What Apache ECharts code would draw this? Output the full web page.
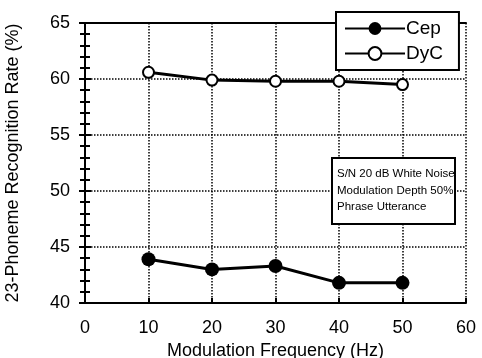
<!DOCTYPE html>
<html>
<head>
<meta charset="utf-8">
<script src="https://cdn.jsdelivr.net/npm/echarts@6/dist/echarts.min.js"></script>
<style>
html, body { margin: 0; padding: 0; background: #fff; }
#chart { width: 482px; height: 358px; }
</style>
</head>
<body>
<div id="chart"></div>
<script>
var dom = document.getElementById("chart");
var myChart;

// modulation frequency (Hz)
var freqs = [10, 20, 30, 40, 50];
// recognition rates (%)
var cepRates = [43.9, 43.0, 43.3, 41.8, 41.8];
var dycRates = [60.6, 59.9, 59.8, 59.8, 59.5];
var noteLines = ['S/N 20 dB White Noise', 'Modulation Depth 50%', 'Phrase Utterance'];

var fontFam = '"Liberation Sans", Arial, sans-serif';

function pairs(xs, ys) {
    return xs.map(function (x, i) { return [x, ys[i]]; });
}

var option = {
    backgroundColor: '#fff',
    animation: false,
    grid: { left: 85, right: 16, top: 23, bottom: 55, outerBoundsMode: 'none' },
    legend: {
        orient: 'vertical',
        left: 336,
        top: 12,
        width: 121,
        padding: [7, 16, 7, 8],
        itemGap: 6,
        itemWidth: 60,
        itemHeight: 16,
        backgroundColor: '#fff',
        borderColor: '#000',
        borderWidth: 2,
        borderRadius: 0,
        z: 20,
        textStyle: { fontFamily: fontFam, fontSize: 19, color: '#000', padding: [0, 0, 0, -4] },
        data: ['Cep', 'DyC']
    },
    xAxis: [{
        type: 'value',
        min: 0, max: 60, interval: 10,
        name: 'Modulation Frequency (Hz)',
        nameLocation: 'middle',
        nameGap: 36,
        nameTextStyle: { fontFamily: fontFam, fontSize: 18, color: '#000' },
        axisLine: { lineStyle: { color: '#000', width: 2 } },
        axisTick: { inside: true, length: 5, lineStyle: { color: '#000', width: 2 } },
        axisLabel: { fontFamily: fontFam, fontSize: 18, color: '#000', margin: 16 },
        splitLine: { show: true, lineStyle: { type: 'dotted', color: '#000', width: 1.5 } }
    }, {
        type: 'value', position: 'top',
        min: 0, max: 60, interval: 10,
        axisLine: { lineStyle: { color: '#000', width: 2 } },
        axisTick: { show: false }, axisLabel: { show: false }, splitLine: { show: false }
    }],
    yAxis: [{
        type: 'value',
        min: 40, max: 65, interval: 5,
        name: '23-Phoneme Recognition Rate (%)',
        nameLocation: 'middle',
        nameGap: 63,
        nameTextStyle: { fontFamily: fontFam, fontSize: 18, color: '#000' },
        axisLine: { show: true, lineStyle: { color: '#000', width: 2 } },
        axisTick: { inside: true, length: 6, lineStyle: { color: '#000', width: 2 } },
        minorTick: { show: true, splitNumber: 5, length: 5, lineStyle: { color: '#000', width: 2 } },
        axisLabel: { fontFamily: fontFam, fontSize: 18, color: '#000', margin: 15 },
        splitLine: { show: true, lineStyle: { type: 'dotted', color: '#000', width: 1.5 } }
    }, {
        type: 'value', position: 'right',
        min: 40, max: 65, interval: 5,
        axisLine: { show: true, lineStyle: { color: '#000', width: 2 } },
        axisTick: { inside: true, length: 6, lineStyle: { color: '#000', width: 2 } },
        minorTick: { show: true, splitNumber: 5, length: 5, lineStyle: { color: '#000', width: 2 } },
        axisLabel: { show: false },
        splitLine: { show: false }
    }],
    series: [{
        name: 'Cep',
        type: 'line',
        data: pairs(freqs, cepRates),
        symbol: 'circle',
        symbolSize: 14,
        lineStyle: { color: '#000', width: 3 },
        itemStyle: { color: '#000' },
        z: 3
    }, {
        name: 'DyC',
        type: 'line',
        data: pairs(freqs, dycRates),
        symbol: 'circle',
        symbolSize: 11,
        lineStyle: { color: '#000', width: 3 },
        itemStyle: { color: '#fff', borderColor: '#000', borderWidth: 2 },
        z: 3
    }],
    graphic: [{
        type: 'rect',
        left: 331,
        top: 157,
        z: 100,
        shape: { width: 123, height: 66 },
        style: { fill: '#fff', stroke: '#000', lineWidth: 2 }
    }, {
        type: 'text',
        left: 337,
        top: 166,
        z: 101,
        style: {
            text: noteLines.join('\n'),
            font: '11.5px ' + fontFam,
            lineHeight: 16.5,
            fill: '#000'
        }
    }]
};

myChart = echarts.init(dom);
if (option && typeof option === "object") {
    myChart.setOption(option, true);
}
</script>
</body>
</html>
